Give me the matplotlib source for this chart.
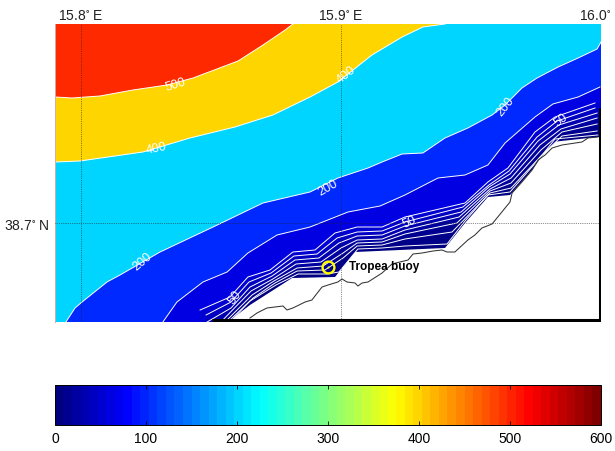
import matplotlib
matplotlib.use('Agg')
import matplotlib.pyplot as plt
from matplotlib.colors import Normalize, LinearSegmentedColormap
from matplotlib.cm import ScalarMappable

plt.rcParams['font.family'] = ['Liberation Sans', 'DejaVu Sans']
plt.rcParams['mathtext.default'] = 'regular'

lon_min, lon_max = 15.79, 16.0
lat_min, lat_max = 38.6703, 38.7597

# isobaths, depth in m, lon and lat in degrees
lon_500 = [15.79, 15.7965, 15.8073, 15.82, 15.8331, 15.8431, 15.8604, 15.87, 15.8785, 15.8815]
lat_500 = [38.7378, 38.7375, 38.7381, 38.7399, 38.7414, 38.7435, 38.7486, 38.7534, 38.7579, 38.7597]

lon_400 = [15.79, 15.7996, 15.8238, 15.8419, 15.8592, 15.8738, 15.8881, 15.8988, 15.9119, 15.9235, 15.9315, 15.94]
lat_400 = [38.7183, 38.7186, 38.7213, 38.7255, 38.7288, 38.7324, 38.7378, 38.7423, 38.7504, 38.7558, 38.7588, 38.7597]

lon_200 = [15.7942, 15.7977, 15.8004, 15.81, 15.815, 15.8304, 15.8508, 15.87, 15.8881, 15.8988, 15.9104, 15.9158,
           15.9235, 15.9315, 15.94, 15.9488, 15.9581, 15.9631, 15.9696, 15.9754, 15.9835, 15.9912, 15.9985, 16.0]
lat_200 = [38.6703, 38.6745, 38.6763, 38.6823, 38.6844, 38.6913, 38.6988, 38.706, 38.7093, 38.7135, 38.7165, 38.7183,
           38.7207, 38.721, 38.7255, 38.7285, 38.7324, 38.7354, 38.7405, 38.7435, 38.7468, 38.7495, 38.7522, 38.7543]

lon_100 = [15.8315, 15.8369, 15.8469, 15.8562, 15.8642, 15.8754, 15.8881, 15.9027, 15.915, 15.9246, 15.9373, 15.9477,
           15.9565, 15.9631, 15.9746, 15.9815, 15.9912, 15.9996]
lat_100 = [38.6703, 38.6763, 38.6823, 38.6853, 38.691, 38.6964, 38.6988, 38.7033, 38.7051, 38.7084, 38.7135, 38.7144,
           38.7174, 38.724, 38.7318, 38.7357, 38.7378, 38.7408]

lon_60 = [15.8458, 15.8573, 15.8642, 15.8727, 15.8815, 15.89, 15.8977, 15.9062, 15.9158, 15.9246, 15.9477, 15.9565,
          15.9642, 15.9746, 15.9823, 15.9977]
lat_60 = [38.6739, 38.6778, 38.6838, 38.6859, 38.6913, 38.6919, 38.697, 38.6988, 38.6988, 38.7018, 38.706, 38.7123,
          38.7165, 38.7273, 38.7318, 38.736]

lon_50 = [15.8481, 15.8577, 15.8646, 15.8731, 15.8819, 15.8908, 15.8985, 15.9062, 15.9158, 15.9246, 15.9469, 15.9569,
          15.9646, 15.9754, 15.9831, 15.9977]
lat_50 = [38.6724, 38.6763, 38.6823, 38.685, 38.6901, 38.6907, 38.6955, 38.6973, 38.6976, 38.7003, 38.7048, 38.7114,
          38.7156, 38.7258, 38.7306, 38.7345]

lon_40 = [15.8485, 15.8577, 15.865, 15.8735, 15.8823, 15.8915, 15.8992, 15.9062, 15.9158, 15.9246, 15.9462, 15.9569,
          15.965, 15.9758, 15.9838, 15.9985]
lat_40 = [38.6703, 38.6745, 38.6808, 38.6841, 38.6889, 38.6895, 38.694, 38.6961, 38.6964, 38.6991, 38.7033, 38.7108,
          38.7147, 38.7246, 38.7294, 38.733]

lon_30 = [15.8538, 15.8654, 15.8738, 15.8827, 15.8923, 15.9, 15.9062, 15.9158, 15.9246, 15.9454, 15.9573, 15.9654,
          15.9765, 15.9846, 15.9985]
lat_30 = [38.6703, 38.6796, 38.6832, 38.6877, 38.6883, 38.6925, 38.6949, 38.6952, 38.6979, 38.7018, 38.7102, 38.7135,
          38.7234, 38.7282, 38.7315]

lon_20 = [15.8554, 15.8658, 15.8742, 15.8831, 15.8931, 15.9008, 15.9062, 15.9158, 15.9246, 15.9446, 15.9573, 15.9654,
          15.9769, 15.985, 15.9985]
lat_20 = [38.6703, 38.6784, 38.6826, 38.6865, 38.6871, 38.691, 38.694, 38.6943, 38.6967, 38.7, 38.7096, 38.712,
          38.7219, 38.7273, 38.7297]

lon_10 = [15.8565, 15.8662, 15.8746, 15.8831, 15.8938, 15.9008, 15.9062, 15.9158, 15.9246, 15.9427, 15.9573, 15.9654,
          15.9769, 15.985, 15.9985]
lat_10 = [38.6703, 38.6775, 38.682, 38.6856, 38.6859, 38.6895, 38.6931, 38.6934, 38.6952, 38.6973, 38.709, 38.7105,
          38.7201, 38.7261, 38.7276]

lon_5 = [15.8573, 15.865, 15.875, 15.8835, 15.8946, 15.8992, 15.9065, 15.9158, 15.9246, 15.9408, 15.9477, 15.9565,
         15.965, 15.9758, 15.9823, 15.9988]
lat_5 = [38.6703, 38.6766, 38.6814, 38.6847, 38.6847, 38.6853, 38.6922, 38.6925, 38.6931, 38.6937, 38.7006, 38.7084,
         38.7093, 38.7189, 38.7252, 38.7264]

# limit of the model water
lon_0 = [15.8565, 15.865, 15.8812, 15.8977, 15.9054, 15.94, 15.9477, 15.9565, 15.965, 15.9735, 15.9812, 15.9988]
lat_0 = [38.6703, 38.6754, 38.6835, 38.6838, 38.6913, 38.6925, 38.7, 38.7078, 38.7084, 38.7159, 38.7243, 38.7258]

# coastline
lon_coast = [15.865, 15.8677, 15.8715, 15.8777, 15.8792, 15.8815, 15.8862, 15.8888, 15.8927, 15.895, 15.8988, 15.9004,
             15.9023, 15.9054, 15.9065, 15.9081, 15.9104, 15.9158, 15.9196, 15.9258, 15.9277, 15.9312, 15.9354, 15.9388,
             15.9408, 15.9438, 15.9488, 15.9515, 15.9542, 15.9581, 15.965, 15.9658, 15.9696, 15.9735, 15.9758, 15.9785,
             15.9812, 15.985, 15.9927, 15.995, 15.9988]
lat_coast = [38.6715, 38.673, 38.6745, 38.6751, 38.6739, 38.6745, 38.6763, 38.6769, 38.6808, 38.6814, 38.6823, 38.6832,
             38.6823, 38.682, 38.6811, 38.682, 38.6823, 38.685, 38.6877, 38.6889, 38.6907, 38.691, 38.6916, 38.6919,
             38.6913, 38.6913, 38.6949, 38.6964, 38.6985, 38.6997, 38.7063, 38.709, 38.7123, 38.7159, 38.7189, 38.7204,
             38.7225, 38.7234, 38.7243, 38.7255, 38.7258]

# thick edge of the domain
lon_edge = [15.8505, 15.9996, 15.9996]
lat_edge = [38.6708, 38.6708, 38.7345]

isobaths = [(0, lon_0, lat_0), (5, lon_5, lat_5), (10, lon_10, lat_10), (20, lon_20, lat_20), (30, lon_30, lat_30),
            (40, lon_40, lat_40), (50, lon_50, lat_50), (60, lon_60, lat_60), (100, lon_100, lat_100),
            (200, lon_200, lat_200), (400, lon_400, lat_400), (500, lon_500, lat_500)]

label_text = ['500', '400', '400', '200', '200', '200', '50', '50', '50']
label_lon = [15.8365, 15.8288, 15.9019, 15.8238, 15.895, 15.9631, 15.9846, 15.9265, 15.8592]
label_lat = [38.7414, 38.7222, 38.7444, 38.6883, 38.7105, 38.7348, 38.7309, 38.7003, 38.6775]
label_rot = [17, 12, 38, 40, 30, 52, 38, 25, 55]

buoy_lon = 15.895
buoy_lat = 38.6868

lon_ticks = [15.8, 15.9, 16.0]
lon_labels = ['15.8$^{\\circ}$ E', '15.9$^{\\circ}$ E', '16.0$^{\\circ}$']
lat_ticks = [38.7]
lat_labels = ['38.7$^{\\circ}$ N']
cbar_ticks = [0, 100, 200, 300, 400, 500, 600]

norm = Normalize(0, 600)
# old matlab jet, pure blue at 1/8 and red at 7/8
jet_colors = [(0, 0, 0.5), (0, 0, 1), (0, 1, 1), (1, 1, 0), (1, 0, 0), (0.5, 0, 0)]
jet_stops = [0, 0.125, 0.375, 0.625, 0.875, 1]
jet_fine = LinearSegmentedColormap.from_list('mjet', list(zip(jet_stops, jet_colors)), N=256)
cmap = LinearSegmentedColormap.from_list('mjet64', list(zip(jet_stops, jet_colors)), N=64)

fig = plt.figure(figsize=(6.15, 4.51), dpi=100)
ax = fig.add_axes([55/615, (451-322)/451, 546/615, 298/451])

# paint from the shore outwards, every polygon is closed over the deep corner
for depth, lon, lat in isobaths:
    poly_x = lon + [lon_max, lon_max, lon_min, lon_min, lon[0]]
    poly_y = lat + [lat[-1], lat_max, lat_max, lat_min, lat_min]
    ax.fill(poly_x, poly_y, color=jet_fine(norm(depth)), lw=0, zorder=1)
    if depth > 0:
        ax.plot(lon, lat, color='white', lw=0.7, zorder=2)

ax.plot(lon_coast, lat_coast, color='#333333', lw=0.75, zorder=3)
ax.plot(lon_edge, lat_edge, color='black', lw=2.2, zorder=4, solid_capstyle='butt', solid_joinstyle='miter')

for lon in lon_ticks[:2]:
    ax.axvline(lon, color='#222222', lw=0.5, ls=':', zorder=3)
for lat in lat_ticks:
    ax.axhline(lat, color='#222222', lw=0.5, ls=':', zorder=3)

for t, x, y, r in zip(label_text, label_lon, label_lat, label_rot):
    ax.text(x, y, t, color='white', fontsize=9, rotation=r, ha='center', va='center',
            rotation_mode='anchor', zorder=5)

ax.plot(buoy_lon, buoy_lat, 'o', ms=8.5, mfc='none', mec='#ffff00', mew=1.7, zorder=6)
ax.plot(buoy_lon, buoy_lat, 'o', ms=1.5, color='#ffff00', mew=0, zorder=6)
ax.annotate('Tropea buoy', (buoy_lon, buoy_lat), xytext=(15, 0), textcoords='offset points',
            fontsize=8.5, fontweight='bold', va='center', zorder=6)

ax.set_xlim(lon_min, lon_max)
ax.set_ylim(lat_min, lat_max)
ax.set_xticks([])
ax.set_yticks([])
for side in ['top', 'right', 'bottom']:
    ax.spines[side].set_visible(False)
ax.spines['left'].set_color('#d8a8a8')
ax.spines['left'].set_linewidth(0.7)

# the last label does not fit centred on its tick
for lon, txt, shift in zip(lon_ticks, lon_labels, [0, 0, -6]):
    ax.annotate(txt, (lon, 1), xycoords=('data', 'axes fraction'), xytext=(shift*0.72, 0.5),
                textcoords='offset points', ha='center', va='bottom', fontsize=10, color='#222222',
                annotation_clip=False)
for lat, txt in zip(lat_ticks, lat_labels):
    ax.annotate(txt, (0, lat), xycoords=('axes fraction', 'data'), xytext=(-3.5, -2),
                textcoords='offset points', ha='right', va='center', fontsize=10, color='#222222',
                annotation_clip=False)

cax = fig.add_axes([55/615, (451-425)/451, 546/615, 40/451])
cb = fig.colorbar(ScalarMappable(norm=norm, cmap=cmap), cax=cax, orientation='horizontal')
cb.set_ticks(cbar_ticks)
cax.tick_params(axis='x', which='both', direction='in', top=True, bottom=True, length=3, width=0.6, labelsize=10, pad=5)
cax.minorticks_off()
cb.outline.set_linewidth(0.7)

fig.savefig('out.png', dpi=100)
